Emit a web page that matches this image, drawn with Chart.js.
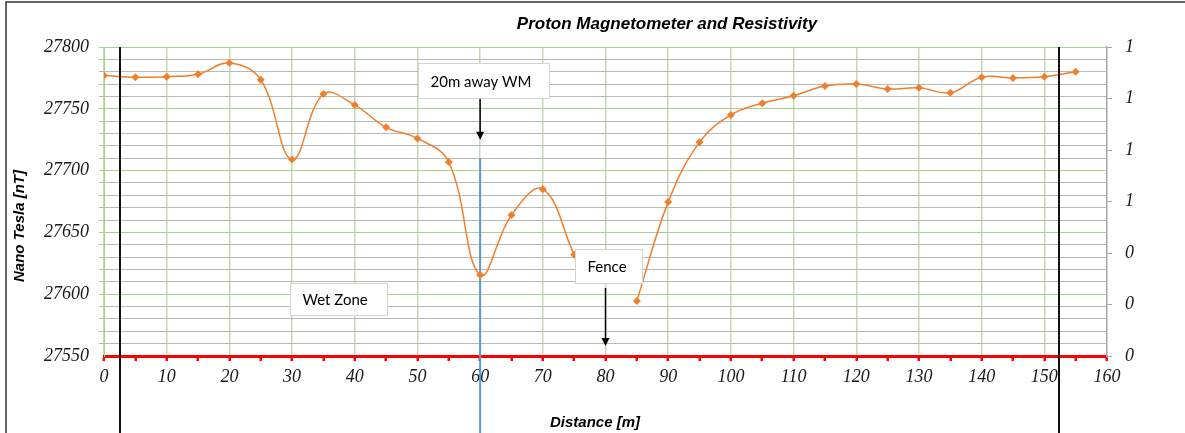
<!DOCTYPE html>
<html>
<head>
<meta charset="utf-8">
<title>Proton Magnetometer and Resistivity</title>
<script src="https://cdn.jsdelivr.net/npm/chart.js@4/dist/chart.umd.min.js"></script>
<style>
    html, body { margin: 0; padding: 0; background: #fff; }
    canvas { display: block; }
</style>
</head>
<body>
<canvas id="chart-mag" width="1185" height="433"></canvas>
<script>
// Lecturas del magnetómetro cada 5 m (80 m sin lectura: cerca)
const distance = [0, 5, 10, 15, 20, 25, 30, 35, 40, 45, 50, 55, 60, 65, 70, 75,
    80, 85, 90, 95, 100, 105, 110, 115, 120, 125, 130, 135, 140, 145, 150, 155];
const nanoTesla = [27777, 27775.5, 27776, 27778, 27787, 27773.5, 27709, 27762, 27753, 27735, 27726, 27707, 27615.5, 27664, 27685, 27632,
    null, 27594.5, 27674.5, 27723, 27745, 27754.5, 27760.5, 27768.5, 27770, 27766, 27767, 27763, 27775.5, 27775, 27776, 27780];

// Eje derecho (resistividad), etiquetas redondeadas a entero
const resMin = 0, resMax = 1.2, resStep = 0.2;

// Cuadros de texto y flechas (en unidades de datos)
const notes = [
    { text: '20m away WM', x0: 50.1, x1: 71.0, y0: 27787, y1: 27758.7 },
    { text: 'Wet Zone', x0: 29.7, x1: 45.1, y0: 27609, y1: 27583 },
    { text: 'Fence', x0: 75.1, x1: 85.8, y0: 27636.6, y1: 27609 }
];
const arrows = [
    { x: 60, from: 27758, to: 27725 },
    { x: 80, from: 27605, to: 27558 }
];

const GREEN = '#A9D18E';
const GREEN_V = '#C4DBB6';
const GREY = '#B8B8B8';
const RED = '#FF0000';
const ORANGE = '#F07F2C';
const tickFont = { family: '"Liberation Serif", serif', size: 18, style: 'italic' };

const decorations = {
    id: 'decorations',
    beforeDatasetsDraw(chart) {
        const { ctx, scales: { x, y } } = chart;
        // línea azul en 60 m
        ctx.save();
        ctx.strokeStyle = '#5B9BD5';
        ctx.lineWidth = 2;
        ctx.beginPath();
        ctx.moveTo(x.getPixelForValue(60), y.getPixelForValue(27710));
        ctx.lineTo(x.getPixelForValue(60), chart.height);
        ctx.stroke();
        ctx.restore();
    },
    afterDatasetsDraw(chart) {
        const { ctx, chartArea, scales: { x, y } } = chart;
        ctx.save();

        // marco
        ctx.strokeStyle = '#333';
        ctx.lineWidth = 1.5;
        ctx.beginPath();
        ctx.moveTo(6, chart.height);
        ctx.lineTo(6, 2);
        ctx.lineTo(chart.width, 2);
        ctx.stroke();

        // líneas negras verticales
        ctx.strokeStyle = '#111';
        ctx.lineWidth = 2;
        [2.5, 152.3].forEach(v => {
            const px = Math.round(x.getPixelForValue(v));
            ctx.beginPath();
            ctx.moveTo(px, chartArea.top);
            ctx.lineTo(px, chart.height);
            ctx.stroke();
        });

        // cuadros de texto
        ctx.font = '15px Lato, sans-serif';
        ctx.textBaseline = 'middle';
        ctx.textAlign = 'left';
        notes.forEach(n => {
            const l = Math.round(x.getPixelForValue(n.x0)) + 0.5;
            const r = Math.round(x.getPixelForValue(n.x1)) + 0.5;
            const t = Math.round(y.getPixelForValue(n.y0)) + 0.5;
            const b = Math.round(y.getPixelForValue(n.y1)) + 0.5;
            ctx.fillStyle = '#fff';
            ctx.fillRect(l, t, r - l, b - t);
            ctx.strokeStyle = '#D4D4D4';
            ctx.lineWidth = 1;
            ctx.strokeRect(l, t, r - l, b - t);
            ctx.fillStyle = '#000';
            ctx.fillText(n.text, l + 12, (t + b) / 2 + 1);
        });

        // flechas
        ctx.strokeStyle = '#000';
        ctx.fillStyle = '#000';
        ctx.lineWidth = 1.5;
        arrows.forEach(a => {
            const px = x.getPixelForValue(a.x);
            const p0 = y.getPixelForValue(a.from);
            const p1 = y.getPixelForValue(a.to);
            ctx.beginPath();
            ctx.moveTo(px, p0);
            ctx.lineTo(px, p1 - 6);
            ctx.stroke();
            ctx.beginPath();
            ctx.moveTo(px - 4, p1 - 8);
            ctx.lineTo(px + 4, p1 - 8);
            ctx.lineTo(px, p1);
            ctx.closePath();
            ctx.fill();
        });

        // títulos
        ctx.fillStyle = '#000';
        ctx.textAlign = 'center';
        ctx.font = 'italic bold 17px "Liberation Sans", Arial, sans-serif';
        ctx.fillText('Proton Magnetometer and Resistivity', 667, 24);
        ctx.font = 'italic bold 15px "Liberation Sans", Arial, sans-serif';
        ctx.fillText('Distance [m]', 595, 423);
        ctx.translate(20, 226);
        ctx.rotate(-Math.PI / 2);
        ctx.fillText('Nano Tesla [nT]', 0, 0);
        ctx.restore();
    }
};

new Chart(document.getElementById('chart-mag'), {
    type: 'line',
    data: {
        datasets: [{
            label: 'Nano Tesla',
            data: distance.map((d, i) => ({ x: d, y: nanoTesla[i] })),
            borderColor: ORANGE,
            backgroundColor: ORANGE,
            borderWidth: 1.5,
            pointStyle: 'rectRot',
            pointRadius: 4,
            pointBorderWidth: 0,
            tension: 0.4,
            spanGaps: false,
            yAxisID: 'y'
        }, {
            label: 'Resistivity',
            data: [],
            yAxisID: 'y1'
        }]
    },
    options: {
        responsive: false,
        animation: false,
        layout: { padding: { top: 47, left: 0, right: 0, bottom: 0 } },
        plugins: {
            legend: { display: false },
            tooltip: { enabled: false }
        },
        scales: {
            x: {
                type: 'linear',
                min: 0,
                max: 160,
                ticks: {
                    stepSize: 5,
                    autoSkip: false,
                    maxRotation: 0,
                    padding: 5,
                    color: '#1a1a1a',
                    font: tickFont,
                    callback: v => v % 10 === 0 ? v : ''
                },
                grid: {
                    color: c => (c.tick && c.tick.value % 10 === 0 && c.tick.value < 160) ? GREEN_V : 'transparent',
                    lineWidth: 1.5,
                    tickColor: RED,
                    tickLength: 5,
                    tickWidth: 2.5
                },
                border: { color: RED, width: 3 },
                afterFit: s => { s.height = 77; }
            },
            y: {
                position: 'left',
                min: 27550,
                max: 27800,
                ticks: {
                    stepSize: 10,
                    autoSkip: false,
                    padding: 10,
                    color: '#1a1a1a',
                    font: tickFont,
                    callback: v => v % 50 === 0 ? v : ''
                },
                grid: {
                    color: c => {
                        if (!c.tick) return GREY;
                        if (c.tick.value === 27550) return 'transparent';
                        return c.tick.value % 50 === 0 ? GREEN : GREY;
                    },
                    lineWidth: 1,
                    tickLength: 5
                },
                border: { color: GREEN },
                afterFit: s => { s.width = 104; }
            },
            y1: {
                position: 'right',
                min: resMin,
                max: resMax,
                ticks: {
                    stepSize: resStep,
                    padding: 13,
                    color: '#1a1a1a',
                    font: tickFont,
                    callback: v => Math.round(v)
                },
                grid: { drawOnChartArea: false, color: '#A6A6A6', tickLength: 5 },
                border: { color: '#A6A6A6', width: 1.5 },
                afterFit: s => { s.width = 78; }
            }
        }
    },
    plugins: [decorations]
});
</script>
</body>
</html>
